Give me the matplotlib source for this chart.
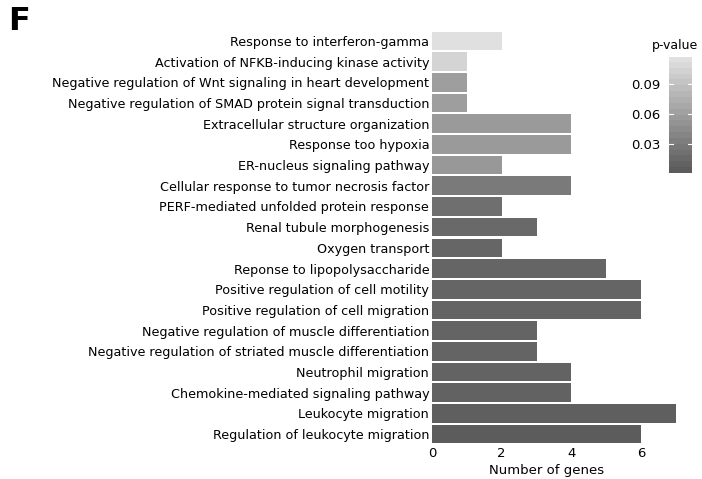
import matplotlib
matplotlib.use("Agg")
import matplotlib.pyplot as plt
import numpy as np
from matplotlib.colors import LinearSegmentedColormap, Normalize

terms = [
    "Response to interferon-gamma",
    "Activation of NFKB-inducing kinase activity",
    "Negative regulation of Wnt signaling in heart development",
    "Negative regulation of SMAD protein signal transduction",
    "Extracellular structure organization",
    "Response too hypoxia",
    "ER-nucleus signaling pathway",
    "Cellular response to tumor necrosis factor",
    "PERF-mediated unfolded protein response",
    "Renal tubule morphogenesis",
    "Oxygen transport",
    "Reponse to lipopolysaccharide",
    "Positive regulation of cell motility",
    "Positive regulation of cell migration",
    "Negative regulation of muscle differentiation",
    "Negative regulation of striated muscle differentiation",
    "Neutrophil migration",
    "Chemokine-mediated signaling pathway",
    "Leukocyte migration",
    "Regulation of leukocyte migration",
]
gene_counts = [2, 1, 1, 1, 4, 4, 2, 4, 2, 3, 2, 5, 6, 6, 3, 3, 4, 4, 7, 6]
p_values = [0.117, 0.106, 0.059, 0.059, 0.055, 0.055, 0.054, 0.027, 0.018, 0.013,
            0.010, 0.009, 0.009, 0.008, 0.008, 0.008, 0.007, 0.006, 0.004, 0.001]
x_ticks = [0, 2, 4, 6]
cbar_ticks = [0.03, 0.06, 0.09]

W, H = 702, 479
fig = plt.figure(figsize=(W / 100, H / 100), dpi=100)
plt.rcParams["font.family"] = ["DejaVu Sans"]

cmap = LinearSegmentedColormap.from_list("grey_p", ["#5c5c5c", "#e0e0e0"])
norm = Normalize(vmin=min(p_values), vmax=max(p_values))

def px(x0, y0, x1, y1):
    return [x0 / W, 1 - y1 / H, (x1 - x0) / W, (y1 - y0) / H]

ax = fig.add_axes(px(432, 30.7, 676, 444.3))
ypos = np.arange(len(terms))
ax.barh(ypos, gene_counts, height=0.9, color=[cmap(norm(p)) for p in p_values],
        edgecolor="none")
ax.set_ylim(len(terms) - 0.5, -0.5)
ax.set_xlim(0, 7)
ax.set_yticks(ypos)
ax.set_yticklabels(terms, fontsize=9.2, color="black")
ax.set_xticks(x_ticks)
ax.set_xticklabels([str(t) for t in x_ticks], fontsize=9.5, color="black")
ax.tick_params(axis="both", length=0, pad=2)
ax.tick_params(axis="x", pad=2)
for s in ax.spines.values():
    s.set_visible(False)
ax.set_xlabel("Number of genes", fontsize=9.5)
ax.xaxis.set_label_coords((547 - 432) / (676 - 432), -0.047)
ax.xaxis.label.set_va("top")

# colour bar for p-value
cax = fig.add_axes(px(669, 57, 692, 173))
grad = np.linspace(norm.vmin, norm.vmax, 20).reshape(-1, 1)
cax.imshow(grad, aspect="auto", cmap=cmap, norm=norm, origin="lower",
           extent=[0, 1, norm.vmin, norm.vmax])
cax.set_xlim(0, 1)
cax.set_ylim(norm.vmin, norm.vmax)
for t in cbar_ticks:
    cax.plot([0, 0.18], [t, t], color="white", lw=0.8)
    cax.plot([0.82, 1], [t, t], color="white", lw=0.8)
cax.set_xticks([])
cax.set_yticks(cbar_ticks)
cax.set_yticklabels([f"{t:.2f}" for t in cbar_ticks], fontsize=9.5)
cax.tick_params(axis="y", length=0, pad=6)
for s in cax.spines.values():
    s.set_visible(False)
fig.text(675 / W, 1 - 45 / H, "p-value", ha="center", va="center", fontsize=9)

fig.text(8 / W, 1 - 21 / H, "F", ha="left", va="center", fontsize=23,
         fontweight="bold")

fig.savefig("out.png", dpi=100)
